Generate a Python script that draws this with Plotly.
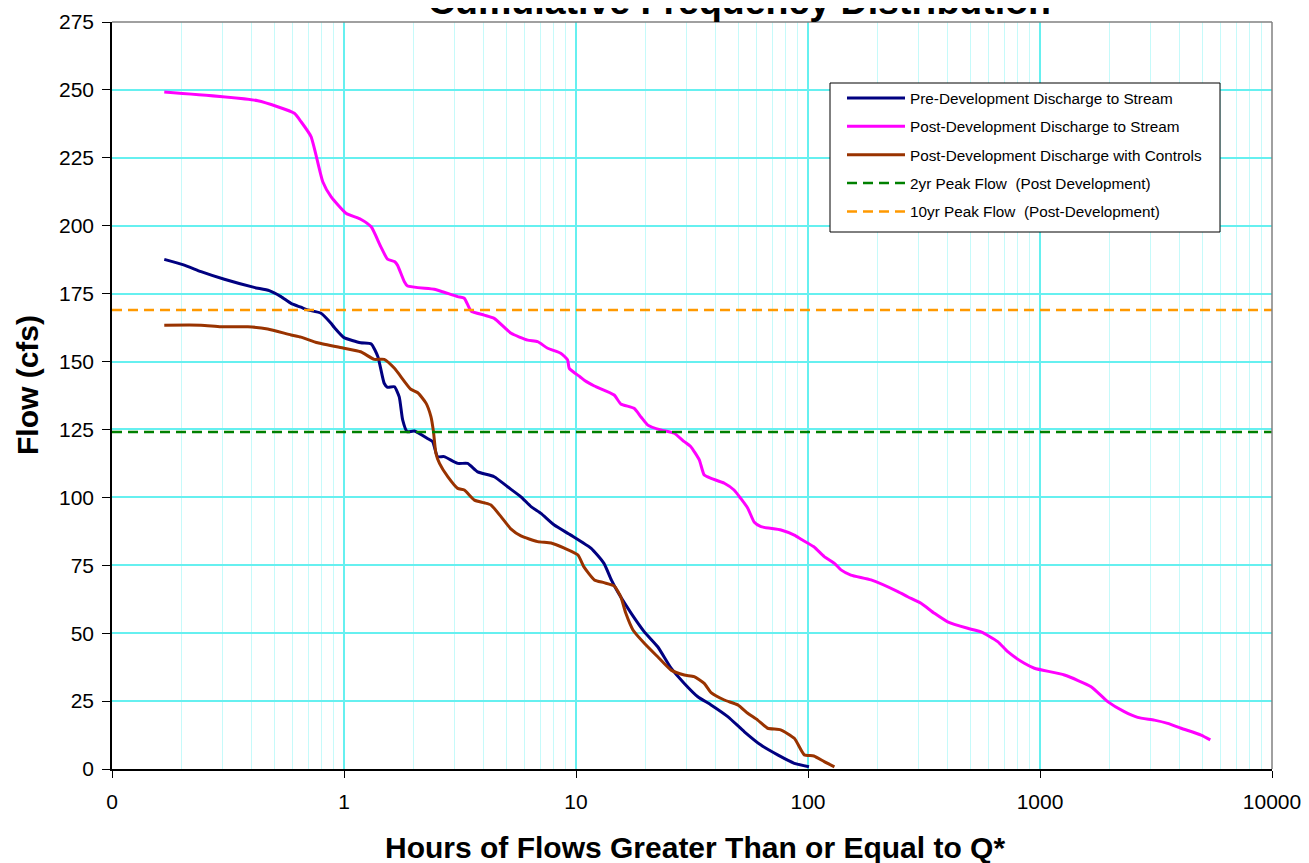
import plotly.graph_objects as go

# ---------------- data ----------------
pre_x = [0.168, 0.205, 0.242, 0.305, 0.41, 0.476, 0.535, 0.591, 0.652, 0.697, 0.796, 0.879, 0.909,
         1.0, 1.18, 1.31, 1.40, 1.49, 1.54, 1.65, 1.73, 1.79, 1.87, 2.01, 2.29, 2.41, 2.53, 2.70,
         3.09, 3.41, 3.77, 4.44, 5.07, 5.79, 6.4, 7.06, 8.06, 9.5, 11.6, 13.2, 14.2, 15.1, 17.3,
         19.7, 22.5, 25.7, 29.3, 33.5, 38.2, 45.1, 53.2, 62.7, 74.0, 87.3, 101]
pre_y = [187.6, 185.5, 183.1, 180.3, 177.3, 176.1, 173.9, 171.4, 170.0, 169.0, 167.8, 164.1, 162.5,
         158.8, 156.9, 156.5, 151.8, 142.0, 140.5, 140.7, 137.0, 128.5, 124.2, 124.4, 121.7, 120.5, 115.0, 115.0,
         112.5, 112.5, 109.4, 107.6, 103.9, 100.2, 96.6, 94.1, 89.8, 86.1, 81.3, 75.7, 69.6, 65.3, 57.3,
         50.5, 45.0, 37.1, 31.5, 26.6, 23.6, 19.3, 13.7, 8.8, 5.2, 2.1, 0.8]

post_x = [0.168, 0.425, 0.611, 0.653, 0.721, 0.81, 0.879, 1.02, 1.18, 1.31, 1.44, 1.54, 1.65, 1.70,
          1.82, 1.88, 2.45, 2.70, 3.09, 3.3, 3.53, 4.02, 4.44, 5.25, 6.19, 6.83, 7.55, 8.62, 9.2, 9.35,
          10.4, 10.9, 12.0, 14.6, 15.6, 17.8, 19.1, 20.4, 23.2, 26.5, 29.3, 31.2, 34.0, 35.7, 38.2,
          43.6, 48.0, 51.4, 55, 58.7, 62.7, 76.5, 87.3, 93.3, 106, 117.5, 130, 138.7, 153, 187,
          244, 269, 307, 351, 400, 488, 557, 657, 726, 856, 946, 1274, 1660, 1958, 2308, 2636,
          3111, 3550, 4054, 4947, 5420]
post_y = [249.2, 246.0, 241.4, 238.3, 232.8, 216.2, 210.7, 204.6, 202.4, 199.6, 192.3, 187.7, 186.8, 185.5,
          179.4, 177.8, 176.6, 175.5, 173.9, 173.3, 168.6, 167.1, 165.9, 160.4, 157.9, 157.3, 154.9, 153.0, 150.6, 147.5,
          144.4, 143.0, 141.0, 137.7, 134.4, 132.8, 129.5, 126.6, 124.8, 123.6, 120.5, 118.7, 113.8, 108.2, 107.0,
          105.2, 102.7, 99.5, 96.0, 90.8, 89.2, 88.0, 86.1, 84.6, 81.8, 78.2, 75.7, 73.3, 71.4, 69.6,
          65.3, 63.4, 61.0, 57.3, 54.2, 51.8, 50.5, 46.9, 43.2, 38.9, 37.1, 34.6, 30.3, 24.8, 21.1, 19.0,
          18.0, 16.8, 15.0, 12.5, 10.7]

ctrl_x = [0.168, 0.242, 0.295, 0.385, 0.469, 0.591, 0.652, 0.77, 1.0, 1.18, 1.35, 1.49, 1.65, 1.94,
          2.08, 2.26, 2.37, 2.43, 2.49, 2.58, 2.80, 3.09, 3.30, 3.65, 4.02, 4.30, 4.75, 5.25, 5.79,
          6.83, 7.81, 8.91, 10.2, 10.8, 12.0, 13.2, 14.6, 15.6, 16.4, 17.6, 19.7, 22.5, 25.7, 29.3,
          32.3, 35.7, 38.2, 43.6, 49.8, 55, 60.7, 67, 76.2, 87.3, 96.4, 106, 117.5, 130]
ctrl_y = [163.4, 163.4, 162.8, 162.8, 162.0, 159.8, 159.0, 156.9, 154.9, 153.6, 150.8, 150.8, 147.5, 139.8,
          138.5, 134.6, 129.7, 124.2, 116.2, 112.5, 107.6, 103.3, 102.7, 99.0, 98.0, 97.2, 92.9, 88.3, 85.8,
          83.7, 83.2, 81.3, 78.8, 74.5, 69.6, 68.6, 67.4, 63.4, 57.3, 51.2, 46.3, 41.3, 36.4, 34.6,
          34.0, 31.5, 28.1, 25.4, 23.6, 20.5, 18.0, 15.0, 14.4, 11.3, 5.2, 4.8, 2.7, 0.8]

ref_x = [0.1, 10000]
peak_2yr = 124.1
peak_10yr = 169.0

series_names = ["Pre-Development Discharge to Stream",
                "Post-Development Discharge to Stream",
                "Post-Development Discharge with Controls",
                "2yr Peak Flow  (Post Development)",
                "10yr Peak Flow  (Post-Development)"]

x_tickvals = [0.1, 1, 10, 100, 1000, 10000]
x_ticktext = ["0", "1", "10", "100", "1000", "10000"]

# ---------------- figure ----------------
FONT = "Arial, Liberation Sans, sans-serif"
fig = go.Figure()

line_w = 3
fig.add_trace(go.Scatter(x=pre_x, y=pre_y, mode="lines", name=series_names[0], legendgroup="a",
                         line=dict(color="#000080", width=line_w, shape="spline", smoothing=0.5)))
fig.add_trace(go.Scatter(x=post_x, y=post_y, mode="lines", name=series_names[1], legendgroup="b",
                         line=dict(color="#FF00FF", width=line_w, shape="spline", smoothing=0.5)))
fig.add_trace(go.Scatter(x=ctrl_x, y=ctrl_y, mode="lines", name=series_names[2], legendgroup="c",
                         line=dict(color="#993300", width=line_w, shape="spline", smoothing=0.5)))
fig.add_trace(go.Scatter(x=ref_x, y=[peak_2yr, peak_2yr], mode="lines", name=series_names[3], legendgroup="d",
                         line=dict(color="#008000", width=2.5, dash="10px,6px")))
fig.add_trace(go.Scatter(x=ref_x, y=[peak_10yr, peak_10yr], mode="lines", name=series_names[4], legendgroup="e",
                         line=dict(color="#FF9900", width=2.5, dash="10px,6px")))

minor_vals = [k * 10 ** d for d in range(-1, 4) for k in range(2, 10)]

fig.update_xaxes(type="log", range=[-1, 4], tickmode="array", tickvals=x_tickvals, ticktext=x_ticktext,
                 showgrid=True, gridcolor="#66F0F0", gridwidth=1.5,
                 minor=dict(tickmode="array", tickvals=minor_vals, showgrid=True,
                            gridcolor="#C6FAFA", gridwidth=1, ticks=""),
                 showline=True, linecolor="black", linewidth=1.5, ticks="outside", ticklen=7,
                 tickcolor="black", tickfont=dict(family=FONT, size=21, color="black"),
                 ticklabelstandoff=6, zeroline=False, automargin=False)
fig.update_yaxes(range=[0, 275], tick0=0, dtick=25, showgrid=True, gridcolor="#66F0F0", gridwidth=1.5,
                 showline=True, linecolor="black", linewidth=1.5, ticks="outside", ticklen=8,
                 tickcolor="black", tickfont=dict(family=FONT, size=21, color="black"),
                 ticklabelstandoff=4, zeroline=False, automargin=False)

# top/right border of plot area
fig.add_shape(type="line", xref="paper", yref="paper", x0=0, x1=1, y0=1, y1=1,
              line=dict(color="#808080", width=1.5))
fig.add_shape(type="line", xref="paper", yref="paper", x0=1, x1=1, y0=0, y1=1,
              line=dict(color="#808080", width=1.5))
# legend frame
fig.add_shape(type="rect", xref="paper", yref="paper", layer="above",
              x0=(830 - 112) / 1160, x1=(1220 - 112) / 1160,
              y0=(769 - 232) / 747, y1=(769 - 83) / 747,
              fillcolor="white", line=dict(color="black", width=1))

fig.add_annotation(text="Cumulative Frequency Distribution", xref="paper", yref="paper",
                   x=(739 - 112) / 1160, y=1 + 21 / 747, showarrow=False,
                   xanchor="center", yanchor="middle",
                   font=dict(family=FONT, size=37.5, color="black", weight="bold"))
fig.add_annotation(text="Flow (cfs)", xref="paper", yref="paper", x=-0.0733, y=0.514,
                   textangle=-90, showarrow=False, xanchor="center", yanchor="middle",
                   font=dict(family=FONT, size=30, color="black", weight="bold"))
fig.add_annotation(text="Hours of Flows Greater Than or Equal to Q*", xref="paper", yref="paper",
                   x=(695 - 112) / 1160, y=(769 - 847) / 747, showarrow=False,
                   xanchor="center", yanchor="middle",
                   font=dict(family=FONT, size=30, color="black", weight="bold"))

# the page adds an 8px body margin, so the plot area is offset to land at x 112-1272, y 22-769
fig.update_layout(
    width=1309, height=863,
    margin=dict(l=104, r=45, t=14, b=102, autoexpand=False),
    paper_bgcolor="white", plot_bgcolor="white",
    showlegend=True,
    legend=dict(x=(842 - 112) / 1160, y=(769 - 81.5) / 747, xanchor="left", yanchor="top",
                bgcolor="rgba(0,0,0,0)", borderwidth=0,
                font=dict(family=FONT, size=15.3, color="black"),
                tracegroupgap=5.5, itemwidth=58, traceorder="grouped"),
)

fig.write_html("out.html")
